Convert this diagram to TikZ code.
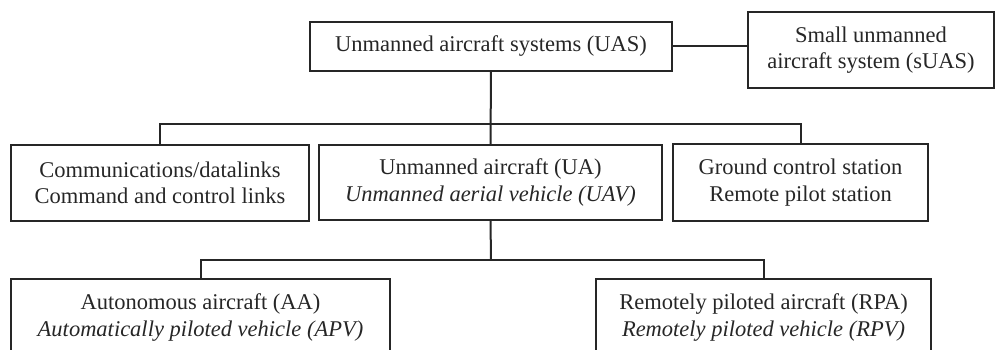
\documentclass[tikz,border=0pt]{standalone}
\usepackage{fontspec}
\setmainfont{Liberation Serif}
\begin{document}
\begin{tikzpicture}[x=1pt,y=-1pt,
  box/.style={draw=black!85, line width=2.2pt, rectangle, inner sep=0pt, outer sep=0pt,
    align=center, text=black!85, font=\fontsize{22.5}{26.5}\selectfont},
  conn/.style={draw=black!85, line width=2pt}]
\useasboundingbox (0,0) rectangle (997,350);
\begin{scope}
\clip (0,0) rectangle (997,350);
\node[box, minimum width=362pt, minimum height=49pt] (uas) at (491,46.5) {Unmanned aircraft systems (UAS)};
\node[box, minimum width=246pt, minimum height=76pt] (suas) at (871,50) {Small unmanned\\aircraft system (sUAS)};
\node[box, minimum width=298pt, minimum height=76pt] (comm) at (160,183) {Communications/datalinks\\Command and control links};
\node[box, minimum width=343pt, minimum height=75pt] (ua) at (490.5,182.5) {Unmanned aircraft (UA)\\\textit{Unmanned aerial vehicle (UAV)}};
\node[box, minimum width=255pt, minimum height=77pt] (gcs) at (800.5,182.5) {Ground control station\\Remote pilot station};
\node[box, minimum width=379pt, minimum height=77pt] (aa) at (200.5,317.5) {Autonomous aircraft (AA)\\\textit{Automatically piloted vehicle (APV)}};
\node[box, minimum width=335pt, minimum height=77pt] (rpa) at (763.5,317.5) {Remotely piloted aircraft (RPA)\\\textit{Remotely piloted vehicle (RPV)}};
\coordinate (j1) at (491,124);
\coordinate (j2) at (491,260);
\draw[conn] (uas.east) -- (uas.east -| suas.west);
\draw[conn] (uas.south) -- (ua.north);
\draw[conn] (comm.north) |- (j1) -| (gcs.north);
\draw[conn] (ua.south) -- (j2);
\draw[conn] (aa.north) |- (j2) -| (rpa.north);
\end{scope}
\end{tikzpicture}
\end{document}
